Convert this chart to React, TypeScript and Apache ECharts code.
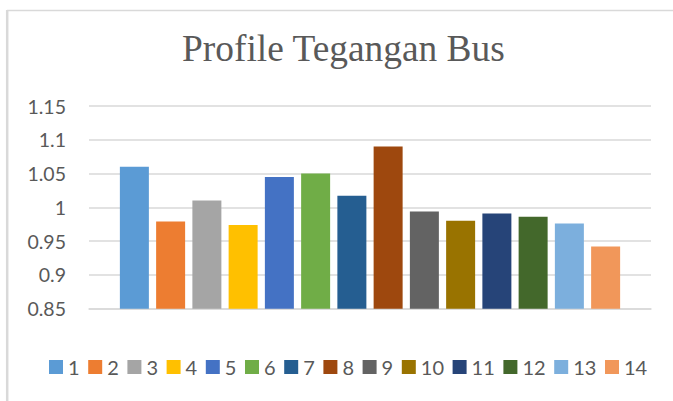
import React, { useEffect, useRef } from "react";
import * as echarts from "echarts";

const busLabels = ["1", "2", "3", "4", "5", "6", "7", "8", "9", "10", "11", "12", "13", "14"];
const voltages = [1.06, 0.979, 1.01, 0.974, 1.045, 1.05, 1.017, 1.09, 0.994, 0.98, 0.991, 0.986, 0.976, 0.942];
const palette = [
  "#5B9BD5", "#ED7D31", "#A5A5A5", "#FFC000", "#4472C4", "#70AD47", "#255E91",
  "#9E480E", "#636363", "#997300", "#264478", "#43682B", "#7CAFDD", "#F1975A",
];
const yMin = 0.85;
const yMax = 1.15;
const yStep = 0.05;
const chartTitle = "Profile Tegangan Bus";

export default function App() {
  const ref = useRef<HTMLDivElement>(null);
  useEffect(() => {
    if (!ref.current) return;
    const chart = echarts.init(ref.current, null, { renderer: "svg" });
    const series = busLabels.map((name, i) => ({
      name,
      type: "bar" as const,
      data: [voltages[i]],
      barWidth: 29,
      barGap: "25%",
      itemStyle: { color: palette[i] },
    }));
    chart.setOption({
      animation: false,
      backgroundColor: "#ffffff",
      title: {
        text: chartTitle,
        left: 182,
        top: 29.5,
        padding: 0,
        textStyle: {
          fontFamily: "Liberation Serif",
          fontSize: 37.4,
          fontWeight: "normal",
          color: "#595959",
        },
      },
      graphic: [
        {
          type: "line",
          shape: { x1: 7, y1: 10.5, x2: 680, y2: 10.5 },
          style: { stroke: "#d9d9d9", lineWidth: 1.5 },
          silent: true,
        },
        {
          type: "line",
          shape: { x1: 7.2, y1: 10, x2: 7.2, y2: 410 },
          style: { stroke: "#d9d9d9", lineWidth: 2.5 },
          silent: true,
        },
      ],
      legend: {
        left: 49,
        top: 357,
        padding: 0,
        itemWidth: 14,
        itemHeight: 14,
        itemGap: 8.6,
        icon: "rect",
        textStyle: { fontFamily: "Lato", fontSize: 20, color: "#595959" },
        data: busLabels,
      },
      grid: { left: 89, right: 22, top: 106, bottom: 92.3, containLabel: false },
      xAxis: {
        type: "category",
        data: [""],
        axisLine: { show: true, lineStyle: { color: "#d9d9d9", width: 1.5 } },
        axisTick: { show: false },
        axisLabel: { show: false },
      },
      yAxis: {
        type: "value",
        min: yMin,
        max: yMax,
        interval: yStep,
        axisLine: { show: false },
        axisTick: { show: false },
        splitLine: { lineStyle: { color: "#d9d9d9", width: 1.5 } },
        axisLabel: {
          margin: 23,
          fontFamily: "Lato",
          fontSize: 19.5,
          color: "#595959",
          formatter: (v: number) => String(parseFloat(v.toFixed(2))),
        },
      },
      series,
    });
    return () => chart.dispose();
  }, []);
  return (
    <div
      ref={ref}
      style={{ position: "fixed", left: 0, top: 0, width: 673, height: 401 }}
    />
  );
}
